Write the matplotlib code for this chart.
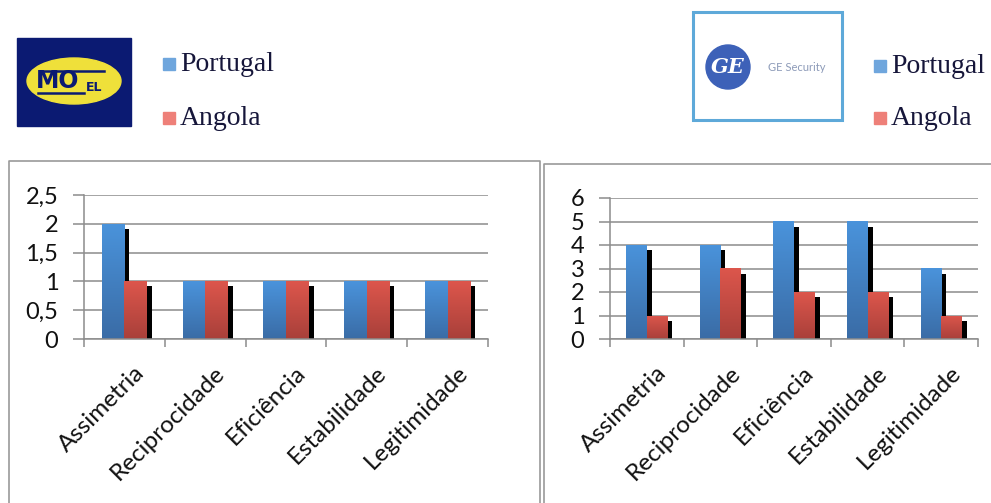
import numpy as np
import matplotlib
matplotlib.use("Agg")
import matplotlib.pyplot as plt
from matplotlib import transforms
from matplotlib.patches import Rectangle, Ellipse, Circle
from matplotlib.colors import LinearSegmentedColormap

# data
categories = ["Assimetria", "Reciprocidade", "Eficiência", "Estabilidade", "Legitimidade"]
series_names = ["Portugal", "Angola"]
moel_portugal = [2, 1, 1, 1, 1]
moel_angola = [1, 1, 1, 1, 1]
ge_portugal = [4, 4, 5, 5, 3]
ge_angola = [1, 3, 2, 2, 1]
moel_ticks = [0, 0.5, 1, 1.5, 2, 2.5]
moel_ticklabels = ["0", "0,5", "1", "1,5", "2", "2,5"]
ge_ticks = [0, 1, 2, 3, 4, 5, 6]

plt.rcParams["font.family"] = ["Lato", "DejaVu Sans"]

W, H = 991, 503
fig = plt.figure(figsize=(W / 100, H / 100), dpi=100)

blue_cmap = LinearSegmentedColormap.from_list("b", ["#3a6ca6", "#4a93db"])
red_cmap = LinearSegmentedColormap.from_list("r", ["#a9403a", "#dc564c"])
grad = np.linspace(0, 1, 64).reshape(-1, 1)


def px(x0, y0, x1, y1):
    # pixel box (top-left origin) -> figure fraction rect
    return [x0 / W, 1 - y1 / H, (x1 - x0) / W, (y1 - y0) / H]


def fill_gradient(ax, bars, cmap):
    for b in bars:
        x0, w, h = b.get_x(), b.get_width(), b.get_height()
        im = ax.imshow(grad, extent=[x0, x0 + w, 0, h], origin="lower",
                       aspect="auto", cmap=cmap, zorder=3)
        im.set_clip_path(b)
        b.set_facecolor("none")


def bar_chart(rect, portugal, angola, ticks, ticklabels, ymax):
    ax = fig.add_axes(rect)
    x = np.arange(len(categories))
    w = 0.28
    shadow = transforms.offset_copy(ax.transData, fig=fig, x=5, y=-5, units="dots")
    for vals, off in ((portugal, -w / 2), (angola, w / 2)):
        sh = ax.bar(x + off, vals, w, color="black", zorder=2)
        for p in sh:
            p.set_transform(shadow)
    bp = ax.bar(x - w / 2, portugal, w, zorder=3, edgecolor="none")
    ba = ax.bar(x + w / 2, angola, w, zorder=3, edgecolor="none")
    fill_gradient(ax, bp, blue_cmap)
    fill_gradient(ax, ba, red_cmap)

    ax.set_xlim(-0.5, len(categories) - 0.5)
    ax.set_ylim(0, ymax)
    ax.set_yticks(ticks)
    ax.set_yticklabels(ticklabels)
    ax.yaxis.grid(True, color="#8c8c8c", lw=1.1)
    ax.set_axisbelow(True)
    for s in ("top", "right"):
        ax.spines[s].set_visible(False)
    for s in ("left", "bottom"):
        ax.spines[s].set_color("#8c8c8c")
        ax.spines[s].set_linewidth(1.1)
        ax.spines[s].set_zorder(4)
    ax.tick_params(axis="y", length=8, width=1.1, color="#8c8c8c",
                   labelsize=17, pad=10.5, labelcolor="#111111")
    ax.set_xticks(np.arange(-0.5, len(categories)))
    ax.tick_params(axis="x", length=6, width=1.1, color="#8c8c8c",
                   labelbottom=False)

    # slanted category names, anchored at the right end of the baseline
    base = transforms.blended_transform_factory(ax.transData, ax.transAxes)
    lab_tr = transforms.offset_copy(base, fig=fig, x=21, y=-35, units="dots")
    for i, name in enumerate(categories):
        ax.text(i, 0, name, transform=lab_tr, rotation=45, ha="right",
                va="baseline", rotation_mode="anchor", fontsize=17.5,
                color="#111111", clip_on=False)
    ax.patch.set_alpha(0)
    return ax


# background canvas in pixel coordinates for frames, logos and legends
bg = fig.add_axes([0, 0, 1, 1], zorder=-5)
bg.set_xlim(0, W)
bg.set_ylim(H, 0)
bg.axis("off")

# chart frames
bg.plot([9, 9, 540, 540], [H + 5, 161, 161, H + 5], color="#9a9a9a", lw=1.2)
bg.plot([544, 544, W + 5], [H + 5, 164, 164], color="#9a9a9a", lw=1.2)

# MOEL logo
bg.add_patch(Rectangle((17, 38), 114, 88, color="#0b1a72"))
bg.add_patch(Ellipse((74, 81), 94, 46, color="#efe03a"))
bg.text(58, 81, "MO", color="#0b1a72", fontsize=17, fontweight="bold",
        ha="center", va="center", family="DejaVu Sans")
bg.text(94, 87, "EL", color="#0b1a72", fontsize=9, fontweight="bold",
        ha="center", va="center", family="DejaVu Sans")
bg.plot([40, 104], [71, 71], color="#0b1a72", lw=1.8)
bg.plot([38, 84], [93, 93], color="#0b1a72", lw=1.8)

# GE Security logo
bg.add_patch(Rectangle((693, 12), 149, 108, facecolor="white",
                       edgecolor="#5ea9d9", lw=2.2))
bg.add_patch(Circle((728, 67), 22, color="#3d61b8"))
bg.text(728, 67, "GE", color="white", fontsize=15, fontstyle="italic",
        fontweight="bold", ha="center", va="center", family="DejaVu Serif")
bg.text(797, 67, "GE Security", color="#8c9ab8", fontsize=8,
        ha="center", va="center")

# legends
legend_colors = ["#6fa6dd", "#ee8079"]
for lx, ys in ((163, (64, 118)), (874, (66, 118))):
    for name, col, y in zip(series_names, legend_colors, ys):
        bg.add_patch(Rectangle((lx, y - 6), 12, 12, color=col))
        bg.text(lx + 17, y, name, fontsize=20, color="#16163a",
                family="Liberation Serif", va="center", ha="left")

bar_chart(px(84, 195, 488, 339), moel_portugal, moel_angola,
          moel_ticks, moel_ticklabels, 2.5)
bar_chart(px(610, 198, 978, 339), ge_portugal, ge_angola,
          ge_ticks, [str(t) for t in ge_ticks], 6)

fig.savefig("out.png", dpi=100)
